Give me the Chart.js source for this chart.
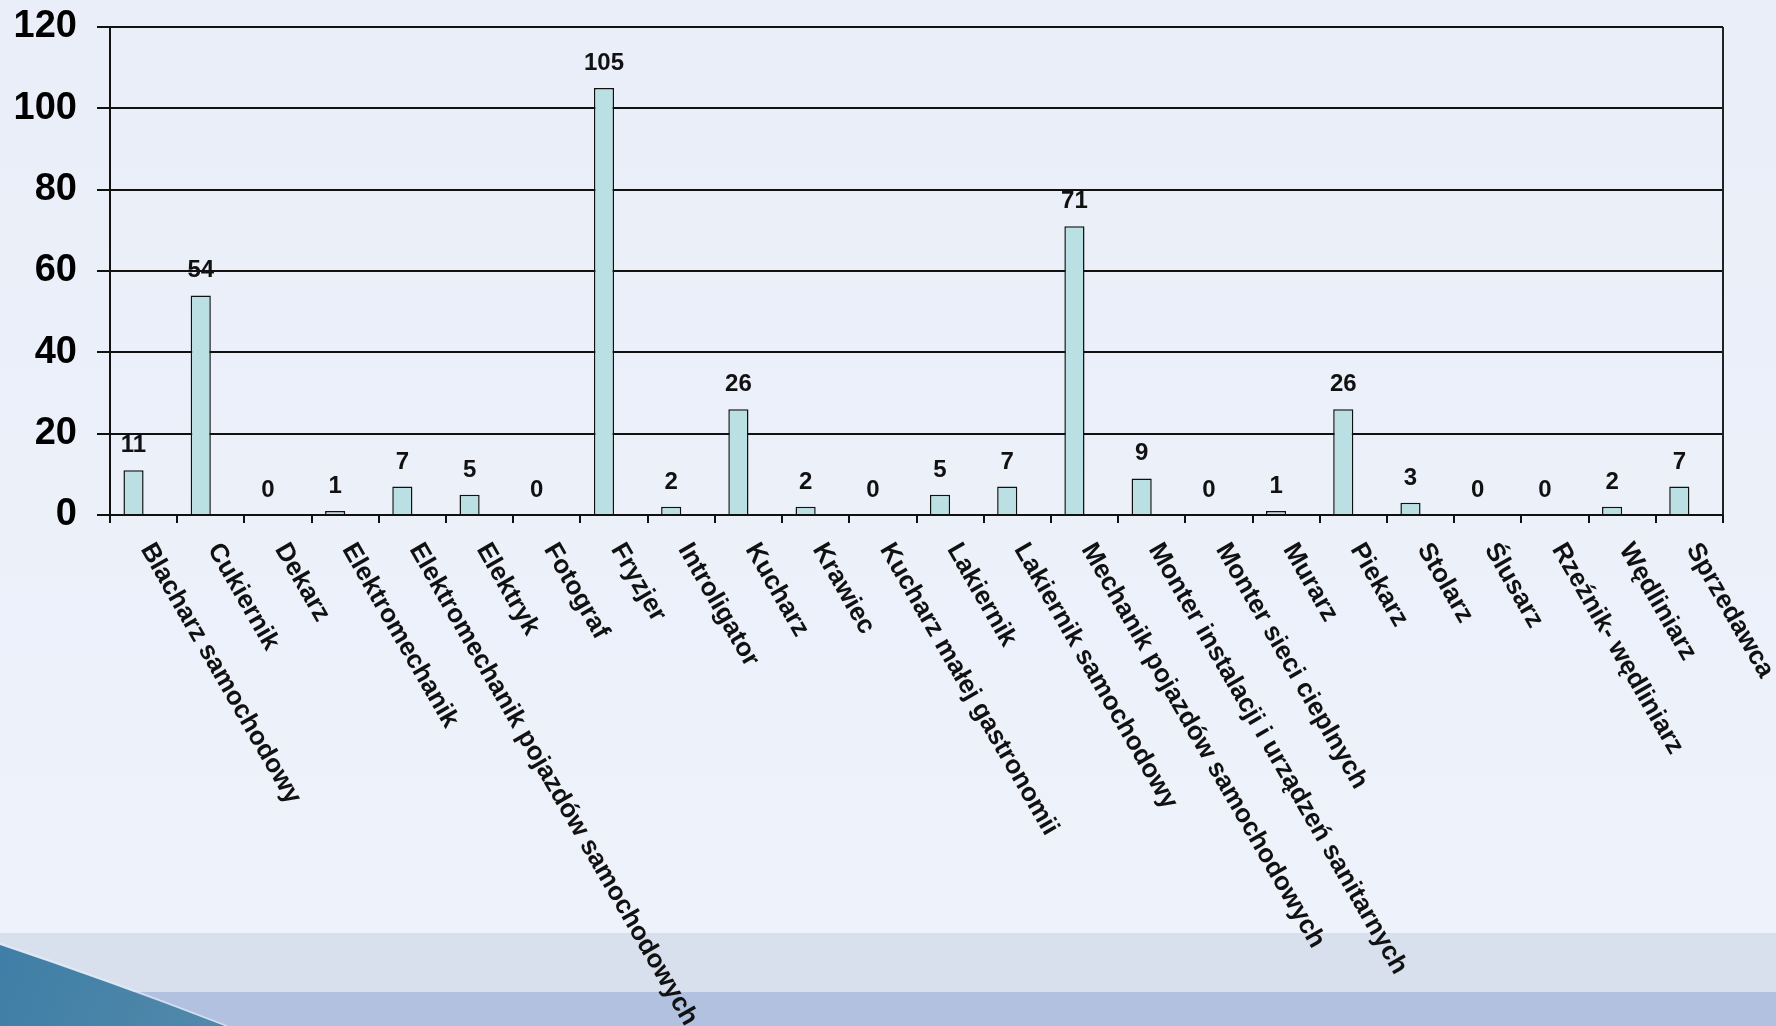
<!DOCTYPE html>
<html>
<head>
<meta charset="utf-8">
<title>Zawody</title>
<script src="https://cdn.jsdelivr.net/npm/chart.js@4.4.0/dist/chart.umd.min.js"></script>
<style>
  html, body { margin: 0; padding: 0; overflow: hidden; }
  #wrap { position: relative; width: 1776px; height: 1026px; }
</style>
</head>
<body>
<div id="wrap"><canvas id="BarChart"></canvas></div>
<script>
// categories and values
const categories = [
  'Blacharz samochodowy', 'Cukiernik', 'Dekarz', 'Elektromechanik',
  'Elektromechanik pojazdów samochodowych', 'Elektryk', 'Fotograf', 'Fryzjer',
  'Introligator', 'Kucharz', 'Krawiec', 'Kucharz małej gastronomii',
  'Lakiernik', 'Lakiernik samochodowy', 'Mechanik pojazdów samochodowych',
  'Monter instalacji i urządzeń sanitarnych', 'Monter sieci cieplnych', 'Murarz',
  'Piekarz', 'Stolarz', 'Ślusarz', 'Rzeźnik- wędliniarz', 'Wędliniarz', 'Sprzedawca'
];
const values = [11, 54, 0, 1, 7, 5, 0, 105, 2, 26, 2, 0, 5, 7, 71, 9, 0, 1, 26, 3, 0, 0, 2, 7];
// second (empty) series - only keeps the bars shifted left like in the original
const emptySeries = categories.map(() => null);
const yMin = 0;
const yMax = 120;
const yStep = 20;

const FONT = '"Liberation Sans", Arial, sans-serif';

// slide background: light lavender with bands and a blue swoosh at bottom-left
const background = {
  id: 'background',
  beforeDraw(chart) {
    const ctx = chart.ctx;
    const w = chart.width, h = chart.height;
    ctx.save();
    const g = ctx.createLinearGradient(0, 0, 0, 933);
    g.addColorStop(0, '#e9eef8');
    g.addColorStop(1, '#eef2fb');
    ctx.fillStyle = g;
    ctx.fillRect(0, 0, w, h);
    ctx.fillStyle = '#d8e0ee';
    ctx.fillRect(0, 933, w, 59);
    ctx.fillStyle = '#b1c1df';
    ctx.fillRect(0, 992, w, h - 992);
    // swoosh
    ctx.beginPath();
    ctx.moveTo(0, 945);
    ctx.quadraticCurveTo(110, 982, 225, h);
    ctx.lineTo(0, h);
    ctx.closePath();
    const s = ctx.createLinearGradient(0, 945, 200, h);
    s.addColorStop(0, '#3f7ea6');
    s.addColorStop(1, '#4f88aa');
    ctx.fillStyle = s;
    ctx.fill();
    ctx.strokeStyle = 'rgba(225,238,252,0.7)';
    ctx.lineWidth = 1.5;
    ctx.beginPath();
    ctx.moveTo(0, 943.5);
    ctx.quadraticCurveTo(111, 980.5, 227, h);
    ctx.stroke();
    ctx.restore();
  }
};

// values above the bars, rotated category names, right border of the plot
const extras = {
  id: 'extras',
  afterDraw(chart) {
    const ctx = chart.ctx;
    const area = chart.chartArea;
    const xScale = chart.scales.x;
    ctx.save();
    // right border
    ctx.strokeStyle = '#222';
    ctx.lineWidth = 2;
    ctx.beginPath();
    ctx.moveTo(area.right, area.top);
    ctx.lineTo(area.right, area.bottom);
    ctx.stroke();

    // value labels
    ctx.fillStyle = '#111';
    ctx.font = 'bold 24px ' + FONT;
    ctx.textAlign = 'center';
    ctx.textBaseline = 'alphabetic';
    chart.getDatasetMeta(0).data.forEach((bar, i) => {
      ctx.fillText(String(values[i]), bar.x, bar.y - 18);
    });

    // category labels, rotated 60 degrees clockwise
    ctx.font = 'bold 26px ' + FONT;
    ctx.textAlign = 'left';
    ctx.textBaseline = 'top';
    categories.forEach((name, i) => {
      const x = xScale.getPixelForValue(i);
      ctx.save();
      ctx.translate(x + 14, area.bottom + 24);
      ctx.rotate(60 * Math.PI / 180);
      ctx.fillText(name, 0, 0);
      ctx.restore();
    });
    ctx.restore();
  }
};

const ctx_bar = document.getElementById('BarChart').getContext('2d');

const barChart = new Chart(ctx_bar, {
  type: 'bar',
  data: {
    labels: categories,
    datasets: [{
      data: values,
      backgroundColor: '#bbe0e3',
      borderColor: '#111',
      borderWidth: 1.5,
      categoryPercentage: 0.6,
      barPercentage: 1.0
    }, {
      data: emptySeries,
      backgroundColor: 'rgba(0,0,0,0)',
      categoryPercentage: 0.6,
      barPercentage: 1.0
    }]
  },
  options: {
    responsive: true,
    maintainAspectRatio: false,
    animation: false,
    layout: { padding: { top: 27, right: 53, left: 0, bottom: 0 } },
    plugins: {
      legend: { display: false },
      tooltip: { enabled: false }
    },
    scales: {
      x: {
        offset: true,
        grid: {
          offset: true,
          drawOnChartArea: false,
          drawTicks: true,
          tickLength: 8,
          color: '#111',
          lineWidth: 2
        },
        border: { display: true, color: '#111', width: 2 },
        ticks: { display: false },
        afterFit(scale) { scale.height = 511; }
      },
      y: {
        min: yMin,
        max: yMax,
        ticks: {
          stepSize: yStep,
          padding: 20,
          color: '#000',
          font: { family: FONT, size: 38, weight: 'bold' }
        },
        grid: {
          color: '#111',
          lineWidth: 2,
          drawTicks: true,
          tickLength: 13
        },
        border: { display: true, color: '#111', width: 2 },
        afterFit(scale) {
          scale.width = 110;
          scale.paddingTop = 0;
          scale.paddingBottom = 0;
        }
      }
    }
  },
  plugins: [background, extras]
});
</script>
</body>
</html>
